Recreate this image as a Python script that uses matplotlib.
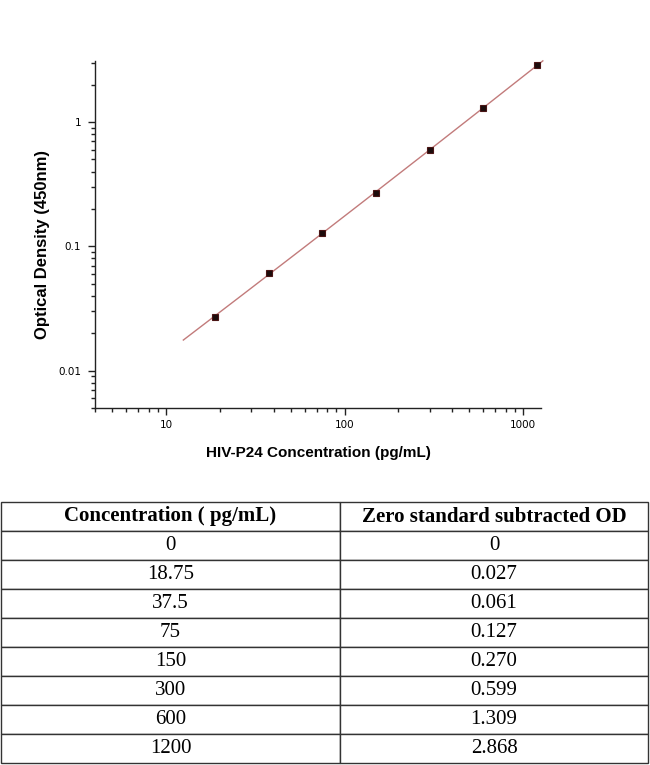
import numpy as np
import matplotlib
matplotlib.use("Agg")
import matplotlib.pyplot as plt
from matplotlib.ticker import FixedLocator, FixedFormatter, LogLocator, NullFormatter

# standard curve data
conc = [0, 18.75, 37.5, 75, 150, 300, 600, 1200]
od = [0, 0.027, 0.061, 0.127, 0.270, 0.599, 1.309, 2.868]
od_text = ["0", "0.027", "0.061", "0.127", "0.270", "0.599", "1.309", "2.868"]
conc_text = ["0", "18.75", "37.5", "75", "150", "300", "600", "1200"]

x_ticks = [10, 100, 1000]
x_ticklabels = ["10", "100", "1000"]
y_ticks = [0.01, 0.1, 1]
y_ticklabels = ["0.01", "0.1", "1"]

col_labels = ["Concentration ( pg/mL)", "Zero standard subtracted OD"]

fig = plt.figure(figsize=(6.5, 7.65), dpi=100)

#%% curve
ax = fig.add_axes([95/650, 1 - 408/765, 446/650, 347/765])

x = np.array(conc[1:], dtype=float)
y = np.array(od[1:], dtype=float)
# quadratic fit in log-log space for the smooth curve
p = np.polyfit(np.log10(x), np.log10(y), 2)
xf = np.geomspace(12.5, 1290, 200)
yf = 10 ** np.polyval(p, np.log10(xf))
ax.plot(xf, yf, color="#c27b7b", lw=1.0, clip_on=False, zorder=2)
ax.plot(x, y, ls="none", marker="s", ms=4.3, mfc="#1c0c0c", mec="#4a1515",
        mew=0.8, zorder=3)

ax.set_xscale("log")
ax.set_yscale("log")
ax.set_xlim(4, 1260)
ax.set_ylim(0.005, 3.1)

ax.xaxis.set_major_locator(FixedLocator(x_ticks))
ax.xaxis.set_major_formatter(FixedFormatter(x_ticklabels))
ax.yaxis.set_major_locator(FixedLocator(y_ticks))
ax.yaxis.set_major_formatter(FixedFormatter(y_ticklabels))
ax.xaxis.set_minor_locator(LogLocator(base=10, subs=np.arange(2, 10)))
ax.yaxis.set_minor_locator(LogLocator(base=10, subs=np.arange(2, 10)))
ax.xaxis.set_minor_formatter(NullFormatter())
ax.yaxis.set_minor_formatter(NullFormatter())

for s in ["top", "right"]:
    ax.spines[s].set_visible(False)
for s in ["left", "bottom"]:
    ax.spines[s].set_linewidth(1.0)
    ax.spines[s].set_color("#222222")

ax.tick_params(which="major", direction="out", length=5, width=1,
               color="#222222", labelsize=7.5)
ax.tick_params(which="minor", direction="out", length=3, width=1,
               color="#222222")
ax.tick_params(axis="x", which="major", pad=4)
ax.tick_params(axis="y", which="major", pad=5)

ax.set_xlabel("HIV-P24 Concentration (pg/mL)", fontsize=11, fontweight="bold",
              labelpad=11, family="Liberation Sans")
ax.set_ylabel("Optical Density (450nm)", fontsize=12, fontweight="bold",
              family="Liberation Sans")
ax.yaxis.set_label_coords(-0.101, 0.47)

#%% table
tax = fig.add_axes([1/650, 1 - 763/765, 647/650, 261/765])
tax.axis("off")
cells = [[c, o] for c, o in zip(conc_text, od_text)]
tbl = tax.table(cellText=cells, colLabels=col_labels, cellLoc="center",
                colWidths=[339/647, 308/647], bbox=[0, 0, 1, 1])
tbl.auto_set_font_size(False)
for (r, c), cell in tbl.get_celld().items():
    cell.set_edgecolor("#333333")
    cell.set_linewidth(1.0)
    txt = cell.get_text()
    txt.set_family("Liberation Serif")
    txt.set_fontsize(15)
    if r == 0:
        txt.set_fontweight("bold")

fig.savefig("out.png", dpi=100)
